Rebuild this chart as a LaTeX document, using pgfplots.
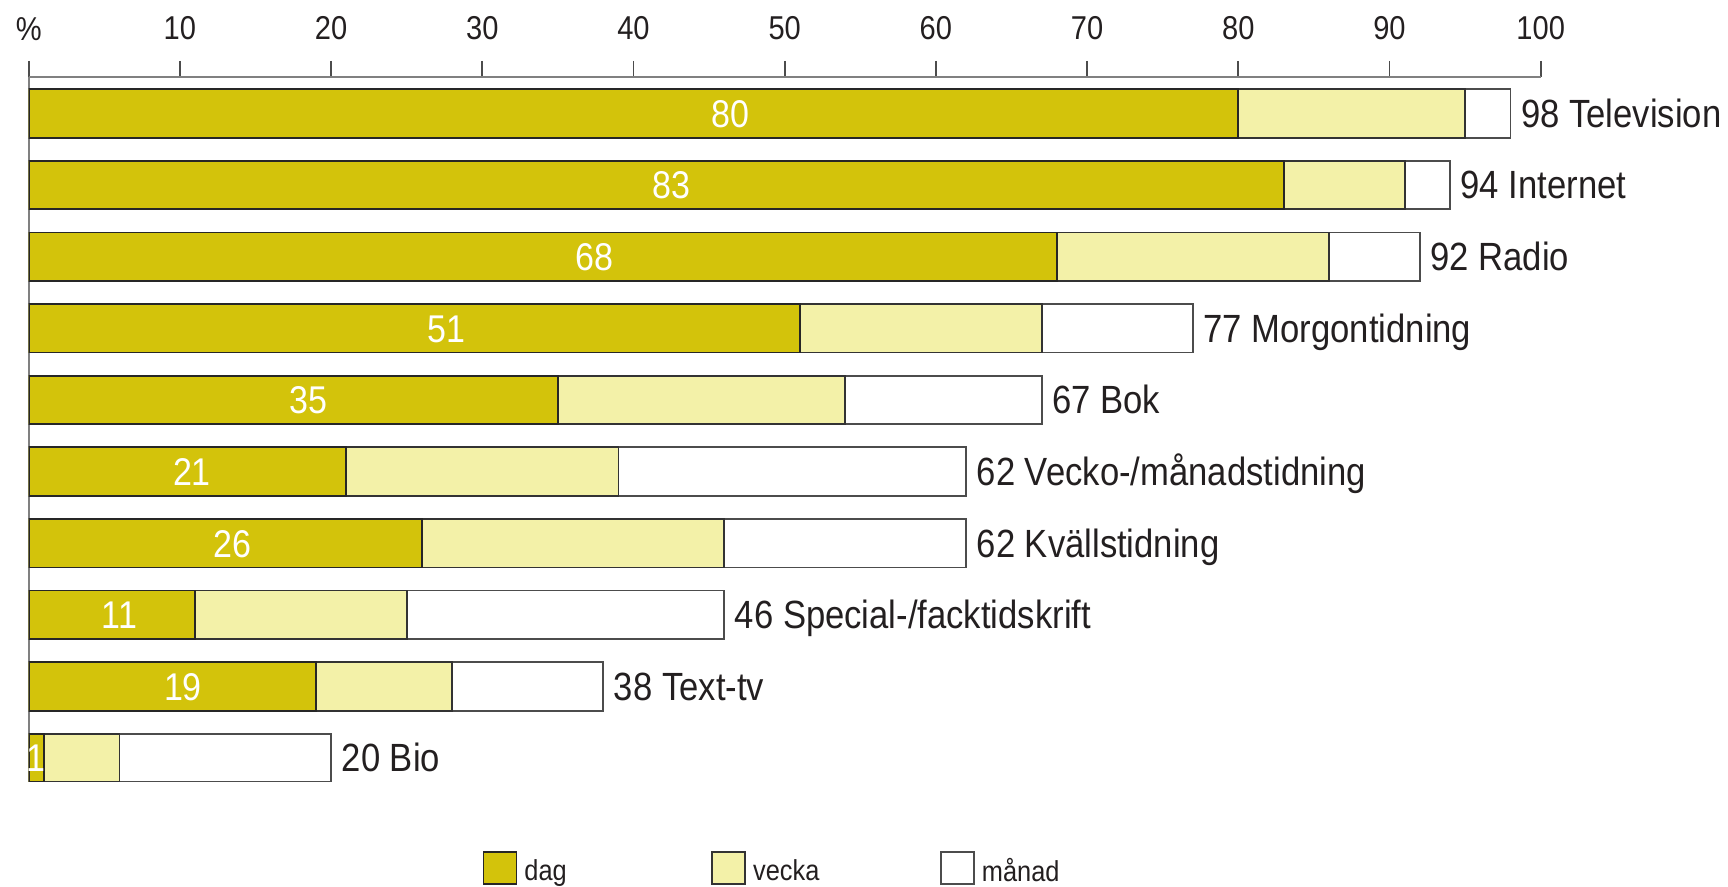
\documentclass[border=0pt]{standalone}
\usepackage{pgfplots}
\usepackage{pgfplotstable}
\pgfplotsset{compat=1.18}
\usepackage{fontspec}
\setmainfont{Liberation Sans}[FakeStretch=0.88]
\definecolor{dagc}{HTML}{D3C30B}
\definecolor{veckac}{HTML}{F3F1A8}
\definecolor{txt}{HTML}{231F20}

\pgfplotstableread{
y dag vecka manad
9 80 15 3
8 83 8 3
7 68 18 6
6 51 16 10
5 35 19 13
4 21 18 23
3 26 20 16
2 11 14 21
1 19 9 10
0 1 5 14
}\bars

\pgfplotstableread[col sep=comma]{
x,y,lab
46.4,9,80
42.5,8,83
37.4,7,68
27.6,6,51
18.5,5,35
10.8,4,21
13.5,3,26
6.0,2,11
10.2,1,19
0.5,0,1
}\vals

\pgfplotstableread[col sep=comma]{
x,y,lab
98,9,98 Television
94,8,94 Internet
92,7,92 Radio
77,6,77 Morgontidning
67,5,67 Bok
62,4,62 Vecko-/månadstidning
62,3,62 Kvällstidning
46,2,46 Special-/facktidskrift
38,1,38 Text-tv
20,0,20 Bio
}\cats

\begin{document}
\begin{tikzpicture}
\pgfplotsset{
  common/.style={
    scale only axis, width=151.2mm, height=70.5mm,
    xmin=0, xmax=100, ymin=-0.335, ymax=9.51,
  }
}
\begin{axis}[common,
  xbar stacked, bar width=4.85mm,
  axis x line=top, axis y line=left,
  axis line style={-, gray, line width=0.5pt},
  xtick={0,10,...,100},
  xticklabels={\%,10,20,30,40,50,60,70,80,90,100},
  ytick=\empty,
  tick align=outside, major tick length=1.6mm,
  xtick style={black!70, line width=0.5pt},
  xticklabel style={font=\fontsize{9.4}{10}\selectfont, text=txt, anchor=south, inner sep=0pt, yshift=2.0mm},
  /pgf/number format/assume math mode=true,
  area legend,
  legend image code/.code={\draw[#1] (0mm,-1.6mm) rectangle (3.3mm,1.6mm);},
  legend columns=3,
  legend style={at={(axis description cs:0,0)}, anchor=west, xshift=45.33mm, yshift=-8.7mm,
    draw=none, inner sep=0pt, font=\fontsize{8.2}{9.5}\selectfont, text=txt,
    nodes={text width=18.7mm, align=left, inner sep=0pt, yshift=-0.4mm},
    /tikz/every odd column/.append style={column sep=0.7mm}},
]
\addplot[fill=dagc, draw=black!85, line width=0.5pt] table[x=dag, y=y] {\bars};
\addlegendentry{dag}
\addplot[fill=veckac, draw=black!80, line width=0.5pt] table[x=vecka, y=y] {\bars};
\addlegendentry{vecka}
\addplot[fill=white, draw=black!70, line width=0.5pt] table[x=manad, y=y] {\bars};
\addlegendentry{månad}
\coordinate (BL) at (axis description cs:0,0);
\coordinate (TR) at (axis description cs:1,1);
\end{axis}
\begin{axis}[common, hide axis, clip=false]
\addplot[only marks, mark=none, nodes near coords, point meta=explicit symbolic,
  nodes near coords style={anchor=base, yshift=-3.95pt, white, inner sep=0pt, font=\fontsize{11}{13}\selectfont}]
  table[x=x, y=y, meta=lab] {\vals};
\addplot[only marks, mark=none, nodes near coords, point meta=explicit symbolic,
  nodes near coords style={anchor=base west, yshift=-3.95pt, xshift=1mm, text=txt, inner sep=0pt, font=\fontsize{11.2}{13}\selectfont}]
  table[x=x, y=y, meta=lab] {\cats};
\end{axis}
\pgfresetboundingbox
\path[use as bounding box] ([xshift=-2.87mm,yshift=-10.5mm]BL) rectangle ([xshift=18.73mm,yshift=7.7mm]TR);
\end{tikzpicture}
\end{document}
